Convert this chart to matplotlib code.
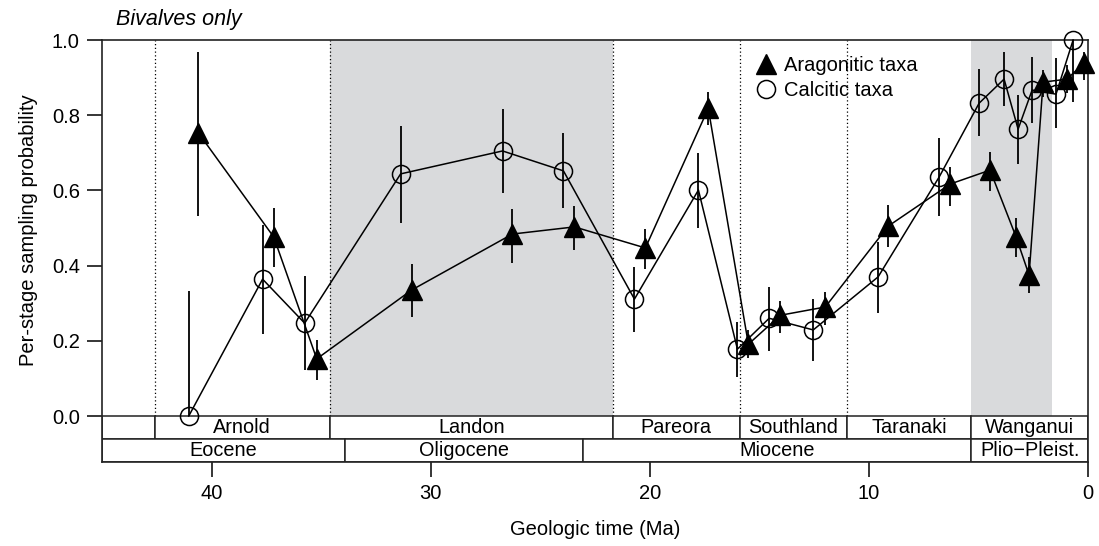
import matplotlib
matplotlib.use("Agg")
import matplotlib.pyplot as plt
from matplotlib.lines import Line2D
from matplotlib.patches import Rectangle

plt.rcParams['font.family'] = ['Liberation Sans', 'DejaVu Sans']

# ---- data ----
arag_age = [40.6, 37.16, 35.2, 30.87, 26.27, 23.44, 20.2, 17.33, 15.5, 14.04,
            11.99, 9.12, 6.29, 4.47, 3.28, 2.69, 2.05, 0.96, 0.18]
arag_val = [0.753, 0.476, 0.152, 0.335, 0.484, 0.503, 0.447, 0.818, 0.191, 0.268,
            0.290, 0.505, 0.617, 0.654, 0.476, 0.375, 0.888, 0.896, 0.939]
arag_lo = [0.532, 0.396, 0.096, 0.263, 0.407, 0.441, 0.390, 0.774, 0.154, 0.221,
           0.242, 0.450, 0.559, 0.598, 0.424, 0.326, 0.849, 0.858, 0.894]
arag_hi = [0.968, 0.553, 0.202, 0.404, 0.551, 0.559, 0.497, 0.862, 0.229, 0.306,
           0.330, 0.561, 0.663, 0.703, 0.527, 0.424, 0.920, 0.933, 0.969]

calc_age = [41.04, 37.67, 35.75, 31.37, 26.72, 23.94, 20.7, 17.78, 16.0, 14.55,
            12.54, 9.58, 6.79, 4.97, 3.83, 3.19, 2.55, 1.46, 0.68]
calc_val = [0.0, 0.364, 0.247, 0.644, 0.705, 0.652, 0.311, 0.601, 0.178, 0.260,
            0.229, 0.370, 0.636, 0.832, 0.896, 0.763, 0.867, 0.856, 1.0]
calc_lo = [0.0, 0.218, 0.122, 0.513, 0.593, 0.553, 0.223, 0.500, 0.104, 0.173,
           0.146, 0.274, 0.532, 0.745, 0.824, 0.669, 0.778, 0.765, 0.835]
calc_hi = [0.333, 0.508, 0.372, 0.771, 0.816, 0.753, 0.396, 0.699, 0.250, 0.343,
           0.311, 0.463, 0.740, 0.923, 0.967, 0.855, 0.956, 0.951, 1.0]

stage_names = ["", "Arnold", "Landon", "Pareora", "Southland", "Taranaki", "Wanganui"]
stage_bounds = [45.0, 42.6, 34.6, 21.7, 15.9, 11.0, 5.33, 0.0]
epoch_names = ["Eocene", "Oligocene", "Miocene", "Plio\u2212Pleist."]
epoch_bounds = [45.0, 33.9, 23.03, 5.33, 0.0]
shaded = [(34.6, 21.7), (5.33, 1.63)]
dotted = [42.6, 34.6, 21.7, 15.9, 11.0]

FS = 14.5
fig = plt.figure(figsize=(10.99, 5.46), dpi=100)
ax = fig.add_axes([0.0928, 0.1538, 0.8972, 0.7729])
ax.set_xlim(45, 0)
ax.set_ylim(-0.1223, 1.0)

grey = '#d9dadc'
for a, b in shaded:
    ax.add_patch(Rectangle((b, 0), a - b, 1.0, facecolor=grey, edgecolor='none', zorder=0))
for d in dotted:
    ax.plot([d, d], [0, 1], color='black', lw=0.9, ls=(0, (1, 2)), zorder=1)

# timescale boxes
row_h = 0.0612
for i, name in enumerate(stage_names):
    a, b = stage_bounds[i], stage_bounds[i + 1]
    ax.add_patch(Rectangle((b, -row_h), a - b, row_h, facecolor='white',
                           edgecolor='#222222', lw=1.1, zorder=2))
    if name:
        ax.text((a + b) / 2, -row_h / 2, name, ha='center', va='center',
                fontsize=14.3, zorder=3)
for i, name in enumerate(epoch_names):
    a, b = epoch_bounds[i], epoch_bounds[i + 1]
    ax.add_patch(Rectangle((b, -2 * row_h), a - b, row_h, facecolor='white',
                           edgecolor='#222222', lw=1.1, zorder=2))
    ax.text((a + b) / 2, -1.5 * row_h, name, ha='center', va='center',
            fontsize=14.3, zorder=3)

# error bars
ax.vlines(arag_age, arag_lo, arag_hi, color='black', lw=1.3, zorder=4)
ax.vlines(calc_age, calc_lo, calc_hi, color='black', lw=1.3, zorder=4)

ax.plot(calc_age, calc_val, color='black', lw=1.1, marker='o', ms=13,
        mfc='none', mec='black', mew=1.1, zorder=5, clip_on=False)
ax.plot(arag_age, arag_val, color='black', lw=1.1, marker='^', ms=14,
        mfc='black', mec='black', zorder=6, clip_on=False)

handles = [Line2D([], [], ls='none', marker='^', ms=14, color='black'),
           Line2D([], [], ls='none', marker='o', ms=13, mfc='none', mec='black', mew=1.1)]
ax.legend(handles, ["Aragonitic taxa", "Calcitic taxa"], loc='upper left',
          bbox_to_anchor=(0.647, 0.995), frameon=False, fontsize=FS,
          handletextpad=0.3, handlelength=1.2, labelspacing=0.3, borderaxespad=0.3)

ax.set_xticks([40, 30, 20, 10, 0])
ax.set_yticks([0.0, 0.2, 0.4, 0.6, 0.8, 1.0])
ax.set_yticklabels(["0.0", "0.2", "0.4", "0.6", "0.8", "1.0"])
ax.tick_params(axis='both', length=11, width=1.1, labelsize=FS, direction='out', pad=5)
for s in ax.spines.values():
    s.set_linewidth(1.2)
    s.set_color('#222222')

ax.set_xlabel("Geologic time (Ma)", fontsize=FS, labelpad=12)
ax.set_ylabel("Per-stage sampling probability", fontsize=FS, labelpad=10, y=0.55)
fig.text(0.106, 0.965, "Bivalves only", fontsize=15.5, style='italic', ha='left', va='center')

fig.savefig("out.png", dpi=100)
